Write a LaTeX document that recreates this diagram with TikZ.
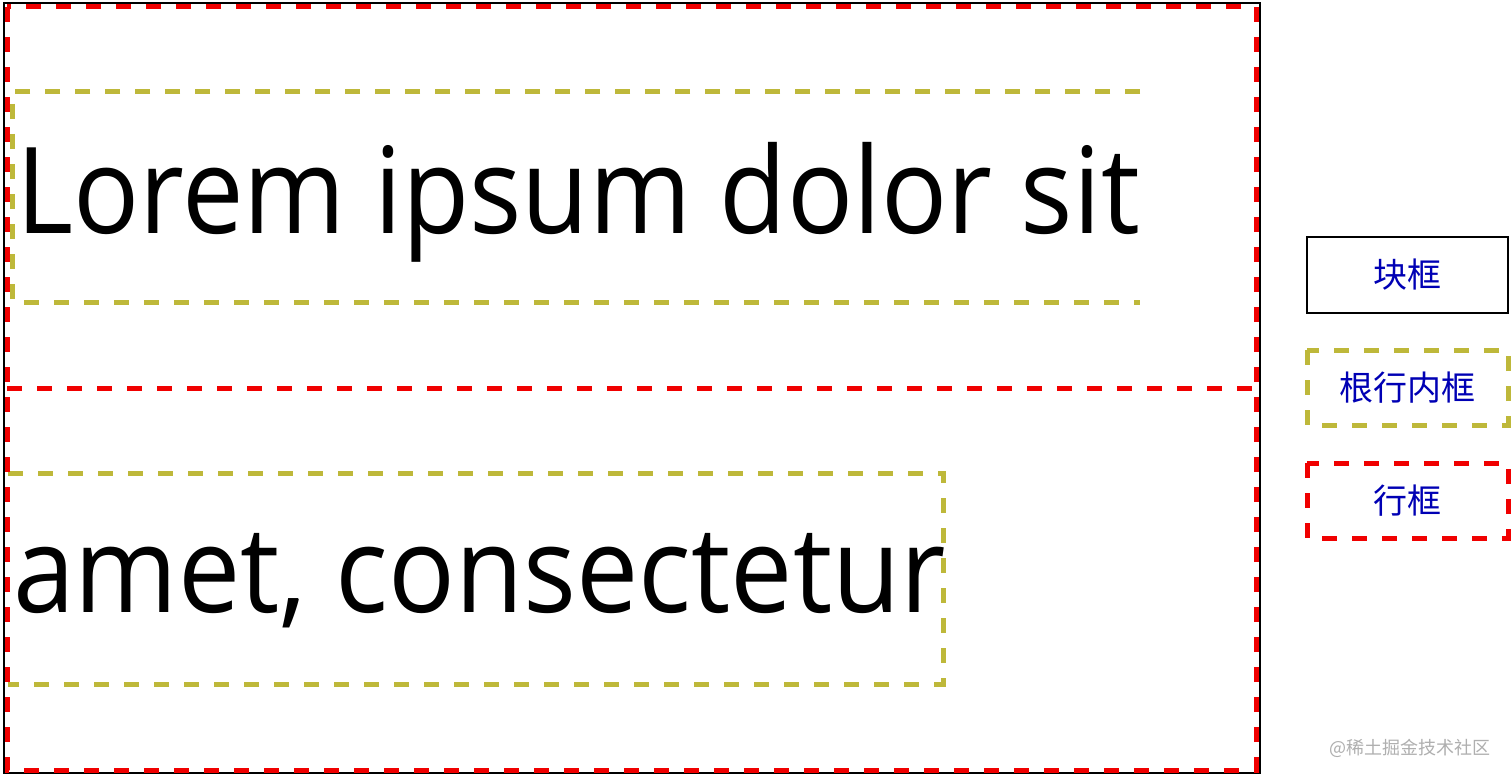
\documentclass[tikz,border=0pt]{standalone}
\usepackage{fontspec}
\setmainfont{Open Sans}[FakeStretch=0.915]
\newfontfamily\cjk{Noto Sans CJK SC}
\definecolor{linered}{RGB}{240,0,0}
\definecolor{inlineolive}{RGB}{190,184,58}
\definecolor{labelblue}{RGB}{0,0,180}
\definecolor{markgray}{RGB}{175,175,175}
\tikzset{
  blockbox/.style={draw=black,line width=2pt},
  linebox/.style={draw=linered,line width=5pt,dash pattern=on 15pt off 15pt},
  inlinebox/.style={draw=inlineolive,line width=5pt,dash pattern=on 15pt off 15pt},
  bigtext/.style={inner sep=0pt,font=\fontsize{120}{130}\selectfont},
  legendtext/.style={inner sep=0pt,text=labelblue,font=\cjk\fontsize{34}{40}\selectfont},
}
\begin{document}
\begin{tikzpicture}[x=1pt,y=-1pt]
\useasboundingbox (0,0) rectangle (1512,781);
\fill[white] (0,0) rectangle (1512,781);
% block box
\draw[blockbox] (4,3) rectangle (1260,773);
% inline boxes
\draw[inlinebox] (1140,92) -- (12,92) -- (12,302) -- (1140,302);
\draw[inlinebox] (8,473) -- (943,473) -- (943,684) -- (8,684);
% line boxes
\draw[linebox] (7,7) rectangle (1256,770);
\draw[linebox] (7,388) -- (1256,388);
% texts
\node[bigtext,anchor=base west] (l1) at (16,233) {Lorem ipsum dolor sit};
\node[bigtext,anchor=base west,font=\fontsize{120}{130}\selectfont\addfontfeatures{FakeStretch=0.925}] (l2) at (13,612) {amet, consectetur};
% legend
\draw[blockbox] (1307,237) rectangle (1508,313);
\node[legendtext] (lg1) at (1407.5,275) {块框};
\draw[inlinebox] (1307,350) rectangle (1508,425);
\node[legendtext] (lg2) at (1407.5,388) {根行内框};
\draw[linebox] (1307,463) rectangle (1508,538);
\node[legendtext] (lg3) at (1407.5,501) {行框};
% watermark
\node[inner sep=0pt,text=markgray,font=\cjk\fontsize{18}{20}\selectfont] (wm) at (1410,748) {@稀土掘金技术社区};
\end{tikzpicture}
\end{document}
